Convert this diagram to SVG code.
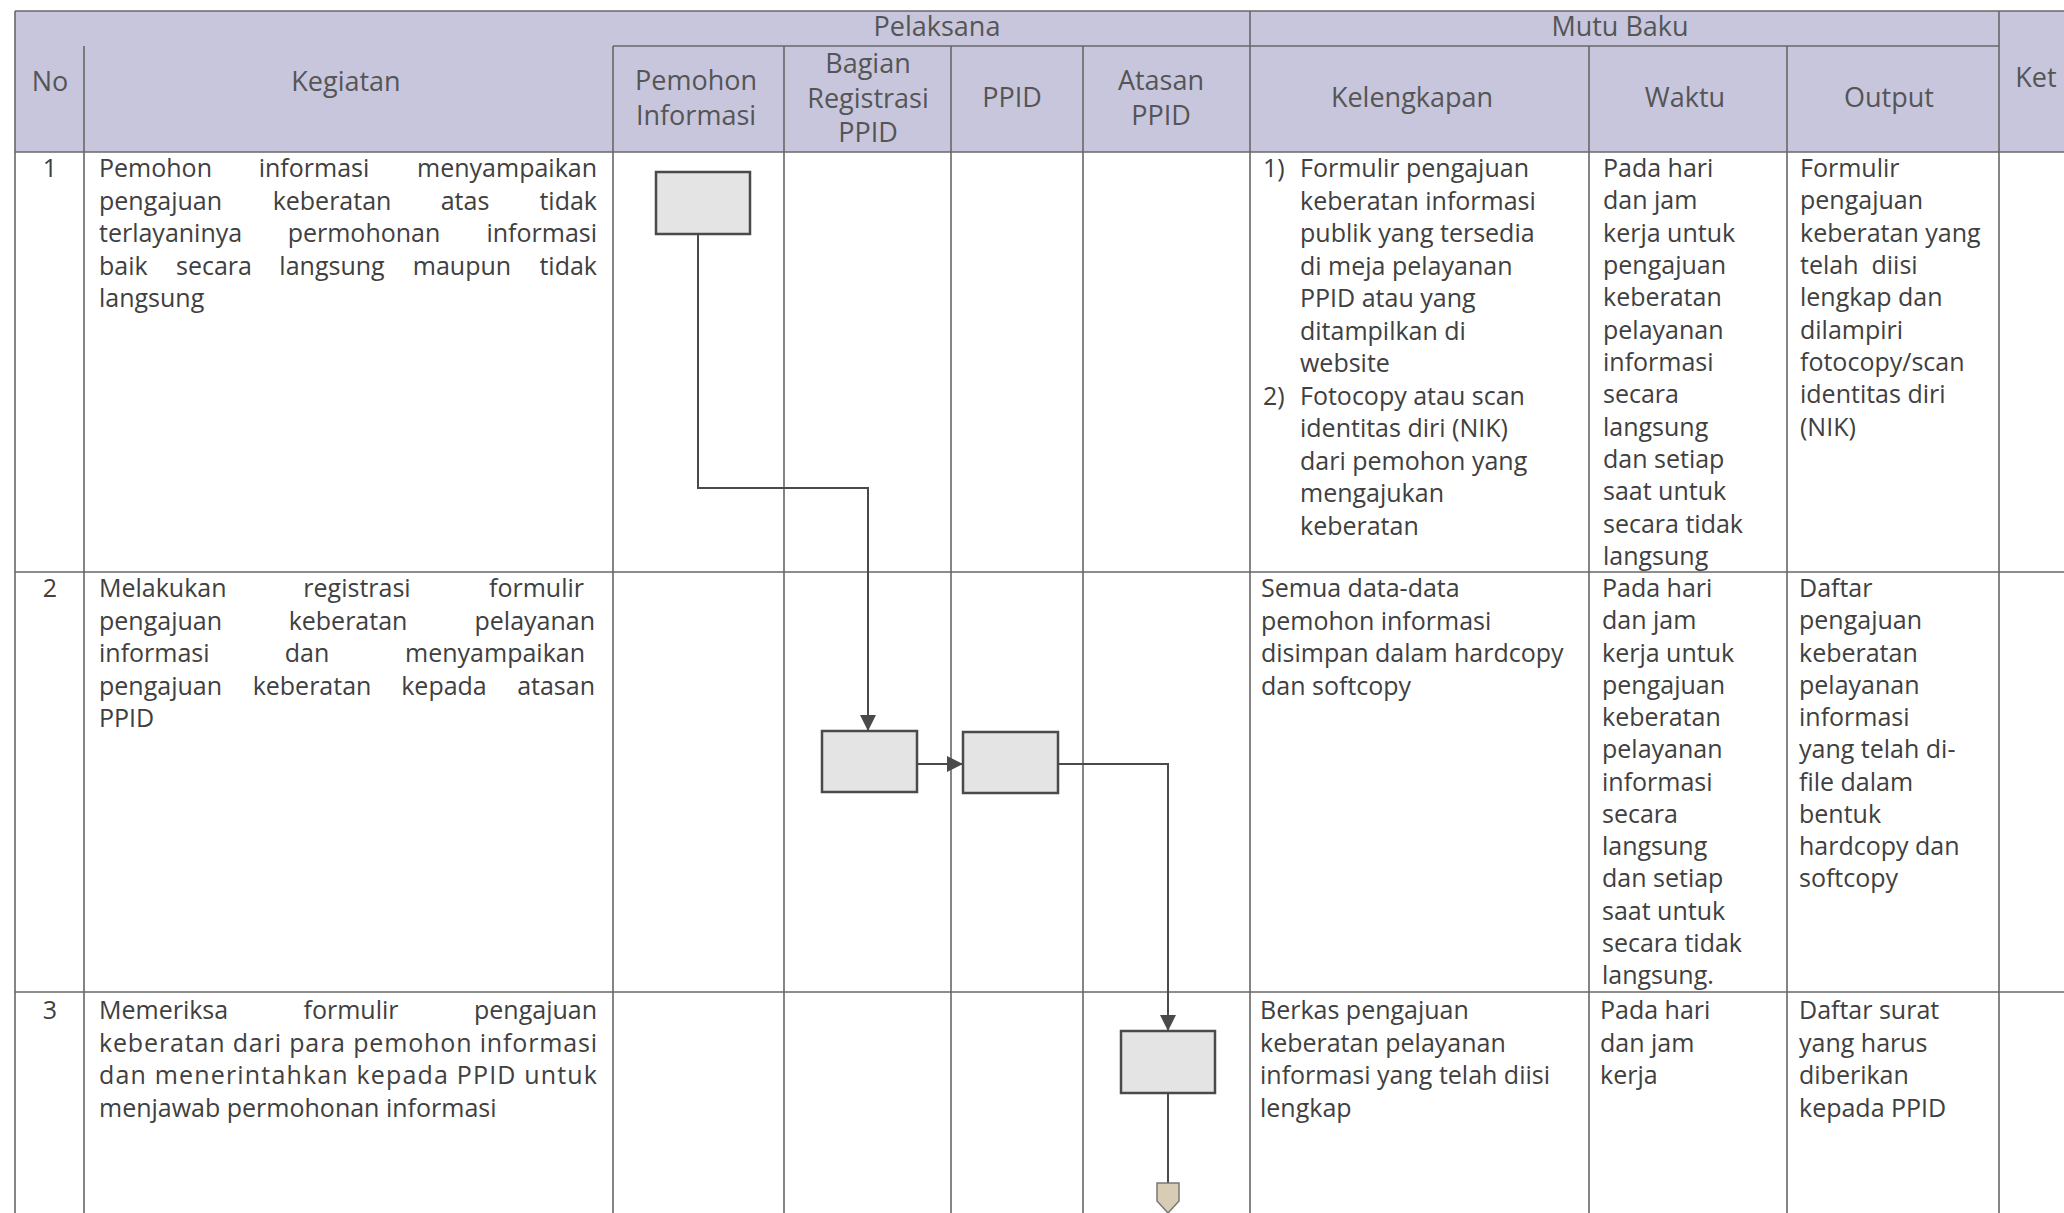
<svg xmlns="http://www.w3.org/2000/svg" width="2064" height="1213" viewBox="0 0 2064 1213">
<defs>
<style>
.grid{stroke:#676767;stroke-width:1.6;fill:none}
.hdr{font-family:"Open Sans","Liberation Sans",sans-serif;font-size:27px;fill:#555;text-anchor:middle}
.t{font-family:"Open Sans","Liberation Sans",sans-serif;font-size:25px;fill:#404040}
.m{text-anchor:middle}
.e{text-anchor:end}
.box{fill:#e4e4e4;stroke:#4a4a4a;stroke-width:2.5}
.conn{fill:none;stroke:#4a4a4a;stroke-width:2}
.off{fill:#d9ccb4;stroke:#777;stroke-width:1.5}
</style>
<marker id="ah" markerUnits="userSpaceOnUse" markerWidth="16" markerHeight="16" refX="16" refY="8" orient="auto">
<path d="M0,0 L16,8 L0,16 z" fill="#4a4a4a"/>
</marker>
</defs>
<rect width="2064" height="1213" fill="#ffffff"/>
<rect x="15" y="11" width="2049" height="141" fill="#c8c6dd"/>

<g id="grid" class="grid">
<line x1="15" y1="11" x2="2064" y2="11"/>
<line x1="613" y1="46" x2="1999" y2="46"/>
<line x1="15" y1="152" x2="2064" y2="152"/>
<line x1="15" y1="572" x2="2064" y2="572"/>
<line x1="15" y1="992" x2="2064" y2="992"/>
<line x1="15" y1="11" x2="15" y2="1213"/>
<line x1="84" y1="46" x2="84" y2="1213"/>
<line x1="613" y1="46" x2="613" y2="1213"/>
<line x1="784" y1="46" x2="784" y2="1213"/>
<line x1="951" y1="46" x2="951" y2="1213"/>
<line x1="1083" y1="46" x2="1083" y2="1213"/>
<line x1="1250" y1="11" x2="1250" y2="1213"/>
<line x1="1589" y1="46" x2="1589" y2="1213"/>
<line x1="1787" y1="46" x2="1787" y2="1213"/>
<line x1="1999" y1="11" x2="1999" y2="1213"/>
</g>

<g id="header">
<text class="hdr" x="937" y="36">Pelaksana</text>
<text class="hdr" x="1620" y="36">Mutu Baku</text>
<text class="hdr" x="50" y="91">No</text>
<text class="hdr" x="346" y="91">Kegiatan</text>
<text class="hdr" x="696" y="90">Pemohon</text>
<text class="hdr" x="696" y="125">Informasi</text>
<text class="hdr" x="868" y="73">Bagian</text>
<text class="hdr" x="868" y="108">Registrasi</text>
<text class="hdr" x="868" y="142">PPID</text>
<text class="hdr" x="1012" y="107">PPID</text>
<text class="hdr" x="1161" y="90">Atasan</text>
<text class="hdr" x="1161" y="125">PPID</text>
<text class="hdr" x="1412" y="107">Kelengkapan</text>
<text class="hdr" x="1685" y="107">Waktu</text>
<text class="hdr" x="1889" y="107">Output</text>
<text class="hdr" x="2036" y="87">Ket</text>
</g>

<g id="row1">
<text class="t m" x="50" y="177">1</text>
<text class="t" x="99" y="177">Pemohon</text>
<text class="t m" x="314" y="177">informasi</text>
<text class="t e" x="597" y="177">menyampaikan</text>
<text class="t" x="99" y="209.5">pengajuan</text>
<text class="t m" x="332" y="209.5">keberatan</text>
<text class="t m" x="465" y="209.5">atas</text>
<text class="t e" x="597" y="209.5">tidak</text>
<text class="t" x="99" y="242">terlayaninya</text>
<text class="t m" x="364" y="242">permohonan</text>
<text class="t e" x="597" y="242">informasi</text>
<text class="t" x="99" y="274.5">baik</text>
<text class="t m" x="214" y="274.5">secara</text>
<text class="t m" x="332" y="274.5">langsung</text>
<text class="t m" x="462" y="274.5">maupun</text>
<text class="t e" x="597" y="274.5">tidak</text>
<text class="t" x="99" y="307">langsung</text>

<text class="t" x="1263" y="177">1)</text>
<text class="t" x="1300" y="177">Formulir pengajuan</text>
<text class="t" x="1300" y="209.5">keberatan informasi</text>
<text class="t" x="1300" y="242">publik yang tersedia</text>
<text class="t" x="1300" y="274.5">di meja pelayanan</text>
<text class="t" x="1300" y="307">PPID atau yang</text>
<text class="t" x="1300" y="339.5">ditampilkan di</text>
<text class="t" x="1300" y="372">website</text>
<text class="t" x="1263" y="404.5">2)</text>
<text class="t" x="1300" y="404.5">Fotocopy atau scan</text>
<text class="t" x="1300" y="437">identitas diri (NIK)</text>
<text class="t" x="1300" y="469.5">dari pemohon yang</text>
<text class="t" x="1300" y="502">mengajukan</text>
<text class="t" x="1300" y="534.5">keberatan</text>

<text class="t" x="1603" y="177">Pada hari</text>
<text class="t" x="1603" y="209.4">dan jam</text>
<text class="t" x="1603" y="241.7">kerja untuk</text>
<text class="t" x="1603" y="274">pengajuan</text>
<text class="t" x="1603" y="306.4">keberatan</text>
<text class="t" x="1603" y="338.7">pelayanan</text>
<text class="t" x="1603" y="371">informasi</text>
<text class="t" x="1603" y="403.4">secara</text>
<text class="t" x="1603" y="435.7">langsung</text>
<text class="t" x="1603" y="468">dan setiap</text>
<text class="t" x="1603" y="500.4">saat untuk</text>
<text class="t" x="1603" y="532.7">secara tidak</text>
<text class="t" x="1603" y="565">langsung</text>

<text class="t" x="1800" y="177">Formulir</text>
<text class="t" x="1800" y="209.4">pengajuan</text>
<text class="t" x="1800" y="241.7">keberatan yang</text>
<text class="t" x="1800" y="274" xml:space="preserve">telah  diisi</text>
<text class="t" x="1800" y="306.4">lengkap dan</text>
<text class="t" x="1800" y="338.7">dilampiri</text>
<text class="t" x="1800" y="371">fotocopy/scan</text>
<text class="t" x="1800" y="403.4">identitas diri</text>
<text class="t" x="1800" y="435.7">(NIK)</text>
</g>

<g id="row2">
<text class="t m" x="50" y="597">2</text>
<text class="t" x="99" y="597">Melakukan</text>
<text class="t m" x="357" y="597">registrasi</text>
<text class="t e" x="584" y="597">formulir</text>
<text class="t" x="99" y="629.5">pengajuan</text>
<text class="t m" x="348" y="629.5">keberatan</text>
<text class="t e" x="595" y="629.5">pelayanan</text>
<text class="t" x="99" y="662">informasi</text>
<text class="t m" x="307" y="662">dan</text>
<text class="t e" x="585" y="662">menyampaikan</text>
<text class="t" x="99" y="694.5">pengajuan</text>
<text class="t m" x="312" y="694.5">keberatan</text>
<text class="t m" x="444" y="694.5">kepada</text>
<text class="t e" x="595" y="694.5">atasan</text>
<text class="t" x="99" y="727">PPID</text>

<text class="t" x="1261" y="597">Semua data-data</text>
<text class="t" x="1261" y="629.5">pemohon informasi</text>
<text class="t" x="1261" y="662">disimpan dalam hardcopy</text>
<text class="t" x="1261" y="694.5">dan softcopy</text>

<text class="t" x="1602" y="597">Pada hari</text>
<text class="t" x="1602" y="629.3">dan jam</text>
<text class="t" x="1602" y="661.5">kerja untuk</text>
<text class="t" x="1602" y="693.8">pengajuan</text>
<text class="t" x="1602" y="726">keberatan</text>
<text class="t" x="1602" y="758.3">pelayanan</text>
<text class="t" x="1602" y="790.5">informasi</text>
<text class="t" x="1602" y="822.8">secara</text>
<text class="t" x="1602" y="855">langsung</text>
<text class="t" x="1602" y="887.3">dan setiap</text>
<text class="t" x="1602" y="919.5">saat untuk</text>
<text class="t" x="1602" y="951.8">secara tidak</text>
<text class="t" x="1602" y="984">langsung.</text>

<text class="t" x="1799" y="597">Daftar</text>
<text class="t" x="1799" y="629.3">pengajuan</text>
<text class="t" x="1799" y="661.5">keberatan</text>
<text class="t" x="1799" y="693.8">pelayanan</text>
<text class="t" x="1799" y="726">informasi</text>
<text class="t" x="1799" y="758.3">yang telah di-</text>
<text class="t" x="1799" y="790.5">file dalam</text>
<text class="t" x="1799" y="822.8">bentuk</text>
<text class="t" x="1799" y="855">hardcopy dan</text>
<text class="t" x="1799" y="887.3">softcopy</text>
</g>

<g id="row3">
<text class="t m" x="50" y="1019">3</text>
<text class="t" x="99" y="1019">Memeriksa</text>
<text class="t m" x="351" y="1019">formulir</text>
<text class="t e" x="597" y="1019">pengajuan</text>
<text class="t" x="99" y="1051.5" textLength="498" lengthAdjust="spacing">keberatan dari para pemohon informasi</text>
<text class="t" x="99" y="1084" textLength="498" lengthAdjust="spacing">dan menerintahkan kepada PPID untuk</text>
<text class="t" x="99" y="1116.5">menjawab permohonan informasi</text>

<text class="t" x="1260" y="1019">Berkas pengajuan</text>
<text class="t" x="1260" y="1051.5">keberatan pelayanan</text>
<text class="t" x="1260" y="1084">informasi yang telah diisi</text>
<text class="t" x="1260" y="1116.5">lengkap</text>

<text class="t" x="1600" y="1019">Pada hari</text>
<text class="t" x="1600" y="1051.5">dan jam</text>
<text class="t" x="1600" y="1084">kerja</text>

<text class="t" x="1799" y="1019">Daftar surat</text>
<text class="t" x="1799" y="1051.5">yang harus</text>
<text class="t" x="1799" y="1084">diberikan</text>
<text class="t" x="1799" y="1116.5">kepada PPID</text>
</g>

<g id="connectors">
<path class="conn" d="M698,234 V488 H868 V731" marker-end="url(#ah)"/>
<path class="conn" d="M917,764 H963" marker-end="url(#ah)"/>
<path class="conn" d="M1058,764 H1168 V1031" marker-end="url(#ah)"/>
<path class="conn" d="M1168,1093 V1183"/>
</g>

<g id="box1"><rect class="box" x="656" y="172" width="94" height="62"/></g>
<g id="box2"><rect class="box" x="822" y="731" width="95" height="61"/></g>
<g id="box3"><rect class="box" x="963" y="732" width="95" height="61"/></g>
<g id="box4"><rect class="box" x="1121" y="1031" width="94" height="62"/></g>
<g id="offpage"><polygon class="off" points="1157,1183 1179,1183 1179,1201 1168,1213 1157,1201"/></g>
</svg>
